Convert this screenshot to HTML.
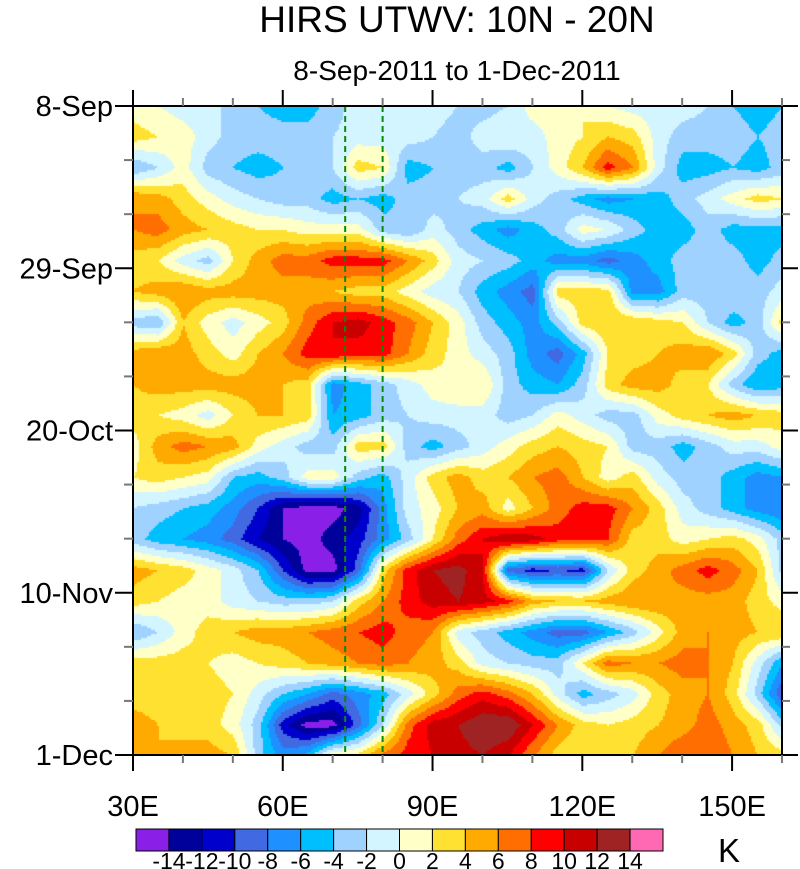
<!DOCTYPE html>
<html><head><meta charset="utf-8"><style>
body{margin:0;background:#fff;}
#wrap{position:relative;width:800px;height:869px;overflow:hidden;font-family:"Liberation Sans",sans-serif;}
svg{position:absolute;left:0;top:0;}
</style></head><body>
<div id="wrap">
<canvas id="cv" width="650" height="650" style="position:absolute;left:133px;top:106px;width:650px;height:650px"></canvas>
<svg id="sv" width="800" height="869"></svg>
</div>
<script>
const lons=[30,35,40,45,50,55,60,65,70,75,80,85,90,95,100,105,110,115,120,125,130,135,140,145,150,155,160];
const days=[0,4,8,12,16,20,24,28,32,36,40,44,48,52,56,60,64,68,72,76,80,84];
const field=[
[1,0,-1,-1,-3,-4,-5,-5,-3,-1,-1,-1,-1,-2,-3,-2,1,1,2,0,-1,-1,-1,-2,-4,-5,-4],
[3,2,1,-1,-3,-3,-3,-3,-2,-1,-1,-1,-2,-3,-1,0,-1,1,2,4,3,-1,-3,-3,-3,-4,-3],
[-4,-2,1,-3,-4,-5,-4,-3,-2,3,2,-5,-4,-3,-3,-5,-2,1,4,9,6,-1,-5,-5,-4,-5,-3],
[6,5,3,1,-1,-2,-3,-3,-5,-4,-5,-3,-3,-2,-1,3,-1,-3,-5,-7,-6,-5,-3,-1,1,3,2],
[6,7,5,4,3,2,2,1,1,1,-3,-4,-1,-3,-5,-7,-5,-3,1,0,-3,-5,-5,-3,-5,-5,-5],
[3,2,-1,-3,2,5,7,7,9,9,9,6,3,-1,-2,-3,-5,-7,-7,-9,-7,-5,-3,-3,-3,-5,-3],
[4,5,6,5,5,5,5,5,4,3,3,1,-1,-2,-5,-7,-9,3,3,3,-7,-7,-3,-3,-2,-3,-1],
[-3,-4,4,1,-1,1,3,7,10,11,9,7,4,1,-3,-5,-7,-3,3,4,4,3,2,-2,-5,-3,3],
[5,6,5,3,1,4,6,9,10,9,9,6,3,1,-1,-3,-7,-9,-5,2,3,4,5,6,3,-3,-5],
[4,5,5,5,5,5,4,3,-7,-5,-3,-1,1,2,2,-3,-5,-6,-3,3,5,5,3,2,-3,-6,-5],
[3,2,1,-1,2,4,4,3,-6,-5,-3,-2,-1,-1,-1,-3,-2,1,-1,-3,-3,1,3,4,5,4,3],
[1,5,7,6,5,1,-1,-3,-3,3,3,-3,-5,-3,-1,1,3,4,3,2,-3,-3,-5,-3,-1,-1,1],
[2,3,2,1,-4,-5,-3,1,1,-3,-5,-1,3,5,3,4,6,7,4,1,3,-1,-3,-3,-5,-7,-6],
[-2,-3,-4,-5,-7,-10,-14,-15,-15,-13,-7,-1,1,4,5,1,4,7,9,9,6,3,-1,-3,-5,-7,-8],
[-3,-5,-6,-7,-9,-12,-14,-15,-13,-11,-7,-3,2,7,10,12,11,9,9,8,3,3,1,2,3,1,-3],
[5,4,3,1,-1,-4,-10,-15,-15,-9,3,9,12,13,10,-9,-11,-10,-11,-2,3,5,7,9,7,4,-3],
[3,2,1,1,-1,-2,-3,-3,-2,3,6,9,11,12,11,9,5,4,4,5,6,6,5,5,5,3,1],
[-4,-2,1,3,4,5,5,6,7,8,9,7,6,-1,-3,-5,-7,-9,-9,-6,-3,1,5,6,5,4,4],
[3,3,3,2,1,2,3,4,5,6,7,6,5,3,-1,-2,-3,-3,2,7,6,6,7,6,4,-1,-6],
[3,3,3,3,2,-1,-4,-6,-9,-7,-5,-1,3,7,9,7,4,-1,-5,-3,-1,3,5,6,3,-3,-10],
[5,4,3,3,1,-3,-11,-15,-15,-9,-2,7,11,12,14,14,10,6,3,2,3,4,5,7,5,3,-3],
[4,4,5,5,4,-3,-7,-5,2,3,7,9,10,11,12,10,6,3,2,2,4,6,8,8,6,4,3]
];
const levels=[-14,-12,-10,-8,-6,-4,-2,0,2,4,6,8,10,12,14];
const colors=["#8a20e8","#00009a","#0000cd","#4169e1","#1e90ff","#00bfff","#a0d2ff","#d2f5ff","#ffffc8","#ffe132","#ffaa00","#ff6e00","#ff0000","#c80000","#a02323","#ff69b4"];
const yTickLabels=["8-Sep","29-Sep","20-Oct","10-Nov","1-Dec"];
const yTickDays=[0,21,42,63,84];
const xTickLons=[30,60,90,120,150];
const refLons=[72.5,80];

const X0=133,X1=782,Y0=106,Y1=755,LON0=30,LON1=160,D1=84;
const xs=l=>X0+(l-LON0)/(LON1-LON0)*(X1-X0);
const ys=d=>Y0+d/D1*(Y1-Y0);
function colorFor(v){let i=0;while(i<levels.length&&v>=levels[i])i++;return colors[i];}
function sample(lon,d){
  let fi=(lon-lons[0])/(lons[1]-lons[0]);fi=Math.max(0,Math.min(lons.length-1.0001,fi));
  let fj=(d-days[0])/(days[1]-days[0]);fj=Math.max(0,Math.min(days.length-1.0001,fj));
  const i=Math.floor(fi),j=Math.floor(fj),a=fi-i,b=fj-j;
  return (field[j][i]*(1-a)+field[j][i+1]*a)*(1-b)+(field[j+1][i]*(1-a)+field[j+1][i+1]*a)*b;
}
const cv=document.getElementById('cv'),ctx=cv.getContext('2d');
const step=2;
for(let py=0;py<650;py+=step){for(let px=0;px<650;px+=step){
  const lon=LON0+(px+step/2)/650*(LON1-LON0),d=(py+step/2)/650*D1;
  ctx.fillStyle=colorFor(sample(lon,d));ctx.fillRect(px,py,step,step);}}

const NS='http://www.w3.org/2000/svg',sv=document.getElementById('sv');
function mk(tag,at,txt){const e=document.createElementNS(NS,tag);for(const k in at)e.setAttribute(k,at[k]);if(txt!==undefined)e.textContent=txt;sv.appendChild(e);return e;}
let e;
e=mk('text',{x:457,y:32,'font-size':37,'text-anchor':'middle',fill:'#000'},'HIRS UTWV: 10N - 20N');


e=mk('text',{x:457,y:80,'font-size':28,'text-anchor':'middle',fill:'#000'},'8-Sep-2011 to 1-Dec-2011');


refLons.forEach(l=>{e=mk('line',{x1:xs(l),x2:xs(l),y1:Y0,y2:Y1,stroke:'#0a8a0a','stroke-width':2,'stroke-dasharray':'6,4'});

});
e=mk('rect',{x:X0,y:Y0,width:X1-X0,height:Y1-Y0,fill:'none',stroke:'#000','stroke-width':2});


for(let d=0;d<=84;d+=7){const maj=yTickDays.includes(d);
  e=mk('line',{x1:X0-(maj?18:9),x2:X0,y1:ys(d),y2:ys(d),stroke:maj?'#000':'#777','stroke-width':2});
  
  
  e=mk('line',{x1:X1,x2:X1+(maj?16:8),y1:ys(d),y2:ys(d),stroke:maj?'#000':'#777','stroke-width':2});
  
  }
yTickDays.forEach((d,k)=>{e=mk('text',{x:113,y:ys(d)+10,'font-size':29,'text-anchor':'end',fill:'#000'},yTickLabels[k]);

});
for(let l=30;l<=160;l+=10){const maj=xTickLons.includes(l);
  e=mk('line',{x1:xs(l),x2:xs(l),y1:Y1,y2:Y1+(maj?16:8),stroke:maj?'#000':'#777','stroke-width':2});
  
  
  e=mk('line',{x1:xs(l),x2:xs(l),y1:Y0,y2:Y0-(maj?16:8),stroke:maj?'#000':'#777','stroke-width':2});
  
  }
xTickLons.forEach(l=>{e=mk('text',{x:xs(l),y:816,'font-size':29,'text-anchor':'middle',fill:'#000'},l+'E');

});
const cbx0=136,cbx1=663,cbw=(cbx1-cbx0)/colors.length;
colors.forEach((c,i)=>{e=mk('rect',{x:cbx0+i*cbw,y:829,width:cbw,height:22,fill:c,stroke:'#000','stroke-width':1});

});
levels.forEach((v,i)=>{e=mk('text',{x:cbx0+(i+1)*cbw,y:869,'font-size':23,'text-anchor':'middle',fill:'#000'},String(v));

});
e=mk('text',{x:729,y:862,'font-size':33,'text-anchor':'middle',fill:'#000'},'K');


</script>
</body></html>
